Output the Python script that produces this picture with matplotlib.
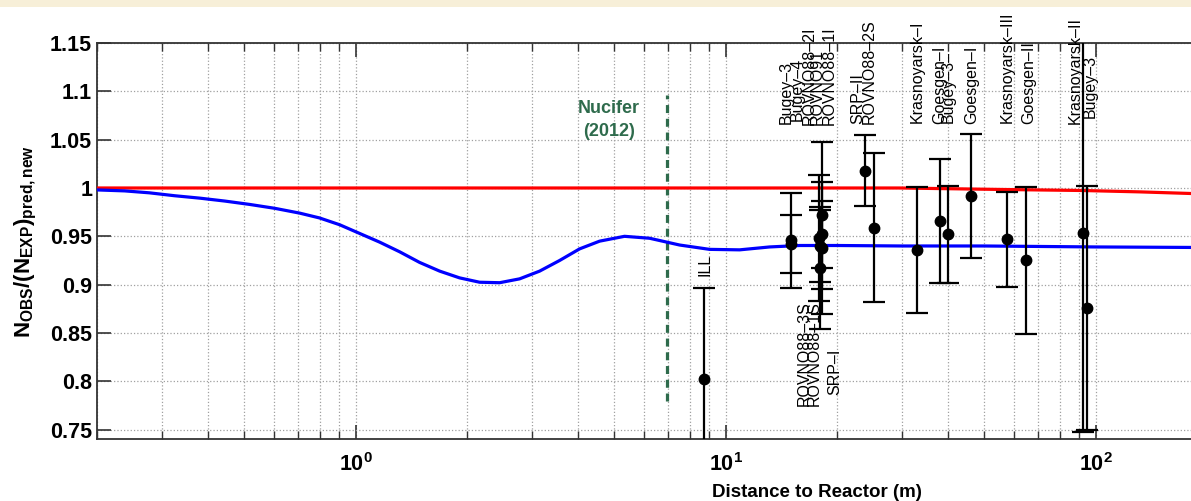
import numpy as np
import matplotlib
matplotlib.use("Agg")
import matplotlib.pyplot as plt
from matplotlib.patches import Rectangle

# ---------------- data ----------------
# blue curve (3+1 oscillation)
blue_L = [0.2, 0.2375, 0.277, 0.324, 0.379, 0.4426, 0.517, 0.604, 0.706, 0.799,
          0.905, 1.025, 1.161, 1.315, 1.489, 1.687, 1.91, 2.163, 2.45, 2.775,
          3.143, 3.559, 4.03, 4.565, 5.33, 6.23, 7.51, 9.05, 10.91, 13.15,
          15.85, 20, 30, 50, 100, 180]
blue_R = [0.998, 0.997, 0.995, 0.992, 0.9895, 0.9865, 0.983, 0.979, 0.974, 0.969,
          0.962, 0.953, 0.944, 0.934, 0.923, 0.914, 0.907, 0.9025, 0.902, 0.906,
          0.914, 0.925, 0.937, 0.945, 0.950, 0.948, 0.941, 0.9365, 0.936, 0.939,
          0.9405, 0.9405, 0.940, 0.940, 0.939, 0.9385]

# red curve (no sterile)
red_L = [0.2, 1, 10, 29.5, 55, 92, 131, 181]
red_R = [1.0, 1.0, 1.0, 1.0, 0.9985, 0.9974, 0.996, 0.9943]

# experiments
exp_names = ["Bugey-4", "ROVNO91", "Bugey-3-I", "Bugey-3-II", "Bugey-3-III",
             "Goesgen-I", "Goesgen-II", "Goesgen-III", "ILL", "Krasnoyarsk-I",
             "Krasnoyarsk-II", "Krasnoyarsk-III", "SRP-I", "SRP-II",
             "ROVNO88-1I", "ROVNO88-2I", "ROVNO88-1S", "ROVNO88-2S", "ROVNO88-3S"]
exp_L = [15.0, 18.0, 15.0, 40.0, 95.0, 38.0, 46.0, 65.0, 8.76, 33.0,
         92.5, 57.5, 18.2, 23.8, 18.0, 17.9, 18.2, 25.2, 18.2]
exp_R = [0.942, 0.940, 0.946, 0.952, 0.876, 0.966, 0.992, 0.925, 0.802, 0.936,
         0.953, 0.947, 0.952, 1.018, 0.917, 0.948, 0.972, 0.959, 0.938]
exp_err = [0.030, 0.037, 0.049, 0.050, 0.126, 0.064, 0.064, 0.076, 0.095, 0.065,
           0.205, 0.049, 0.035, 0.037, 0.063, 0.065, 0.076, 0.077, 0.068]

# text labels: (text, L, y start)
top_labels = [("Bugey\u20133", 14.6, 1.066), ("Bugey\u20134", 15.6, 1.069),
              ("ROVNO88\u20132I", 16.8, 1.065), ("ROVNO91", 17.7, 1.065),
              ("ROVNO88\u20131I", 19.1, 1.065), ("SRP\u2013II", 22.8, 1.066),
              ("ROVNO88\u20132S", 24.5, 1.066), ("Krasnoyarsk\u2013I", 32.9, 1.067),
              ("Goesgen\u2013I", 37.9, 1.066), ("Bugey\u20133\u2013", 40.0, 1.067),
              ("Goesgen\u2013I", 46.2, 1.066), ("Krasnoyarsk\u2013III", 57.6, 1.067),
              ("Goesgen\u2013II", 65.8, 1.066), ("Krasnoyarsk\u2013II", 88.0, 1.066),
              ("Bugey\u20133", 96.5, 1.072)]
bottom_labels = [("ILL", 8.77, 0.909), ("ROVNO88\u20133S", 16.3, 0.774),
                 ("ROVNO88\u20131S", 17.4, 0.774), ("SRP\u2013I", 19.7, 0.786)]

nucifer_L = 6.93
nucifer_y = [0.78, 1.096]

# ---------------- style ----------------
plt.rcParams['font.family'] = ['Liberation Sans', 'DejaVu Sans']
plt.rcParams['mathtext.fontset'] = 'custom'
plt.rcParams['mathtext.rm'] = 'Liberation Sans'
plt.rcParams['mathtext.bf'] = 'Liberation Sans:bold'
plt.rcParams['mathtext.it'] = 'Liberation Sans:italic'

fig = plt.figure(figsize=(11.91, 5.01), dpi=100)
fig.patches.append(Rectangle((0, 1 - 7 / 501), 1, 7 / 501, transform=fig.transFigure,
                             facecolor='#f7efd8', edgecolor='none', zorder=0))

ax = fig.add_axes([97 / 1191, (501 - 439.3) / 501, 1110 / 1191, (439.3 - 43) / 501])
ax.set_xscale('log')
ax.set_xlim(0.2, 200)
ax.set_ylim(0.74, 1.15)

ax.grid(True, which='major', axis='both', linestyle=':', color='#a0a0a0', linewidth=0.9)
ax.grid(True, which='minor', axis='x', linestyle=':', color='#a0a0a0', linewidth=0.9)

ax.plot(red_L, red_R, color='#ff0000', linewidth=2.3, zorder=3)
ax.plot(blue_L, blue_R, color='#0000ff', linewidth=2.3, zorder=3)

ax.errorbar(exp_L, exp_R, yerr=exp_err, fmt='o', color='black', markersize=7.5,
            elinewidth=1.6, capsize=8, capthick=1.6, zorder=4)

ax.plot([nucifer_L, nucifer_L], nucifer_y, color='#2e6b4c', linestyle=(0, (2.5, 1.8)),
        linewidth=2.3, zorder=2)
ax.text(4.83, 1.091, "Nucifer\n(2012)", color='#2e6b4c', fontsize=13, fontweight='bold',
        ha='center', va='top', linespacing=1.45)

for txt, L, y in top_labels:
    ax.text(L, y, txt, rotation=90, ha='center', va='bottom', fontsize=11.5,
            clip_on=False, zorder=5)
for txt, L, y in bottom_labels:
    ax.text(L, y, txt, rotation=90, ha='center', va='bottom', fontsize=11.5,
            clip_on=False, zorder=5)

ax.set_yticks([0.75, 0.8, 0.85, 0.9, 0.95, 1.0, 1.05, 1.1, 1.15])
ax.set_yticklabels(["0.75", "0.8", "0.85", "0.9", "0.95", "1", "1.05", "1.1", "1.15"])
ax.tick_params(axis='both', which='major', direction='in', length=10, width=1.2,
               top=True, right=True, labelsize=15.5, colors='#333333', labelcolor='black')
ax.tick_params(axis='x', which='minor', direction='in', length=6, width=1.0,
               top=True, colors='#333333')
for lab in ax.get_xticklabels() + ax.get_yticklabels():
    lab.set_fontweight('bold')
ax.tick_params(axis='x', which='major', pad=10)

for s in ax.spines.values():
    s.set_color('#333333')
    s.set_linewidth(1.3)

ax.set_ylabel(r'$\mathbf{N_{OBS}/(N_{EXP})_{pred,new}}$', fontsize=16, labelpad=8)
fig.text(712 / 1191, 1 - 497 / 501, "Distance to Reactor (m)", fontsize=13.5,
         fontweight='bold', ha='left', va='baseline')

fig.savefig("out.png", dpi=100)
